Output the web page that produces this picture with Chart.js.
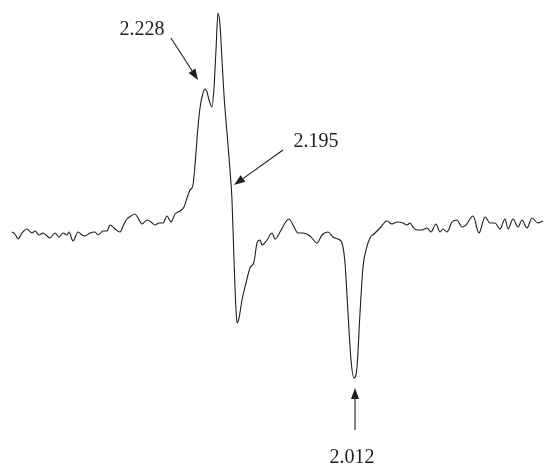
<!DOCTYPE html>
<html>
<head>
<meta charset="utf-8">
<script src="https://cdn.jsdelivr.net/npm/chart.js@4.4.1/dist/chart.umd.min.js"></script>
<style>
  html, body { margin: 0; padding: 0; background: #fff; }
  #wrap { width: 543px; height: 467px; }
</style>
</head>
<body>
<div id="wrap"><canvas id="c" width="543" height="467"></canvas></div>
<script>
// Magnetic field positions (arbitrary units) and first-derivative EPR signal
const field = [
  12, 15, 18, 22, 27, 32, 35, 39, 43, 47, 50, 55, 59, 63, 67, 69, 73, 78, 82, 85,
  90, 95, 98, 103, 107, 110, 115, 120, 124, 127, 131, 135, 138, 142, 147, 151, 155, 159, 163, 167,
  171, 175, 180, 184, 187, 190, 193, 195, 198, 200, 202, 205, 207, 209, 212, 214, 216, 218, 220, 222,
  224, 227, 230, 232, 234, 236, 237, 239, 242, 246, 250, 254, 257, 260, 262, 267, 272, 275, 280, 285,
  289, 293, 298, 303, 310, 317, 322, 328, 333, 338, 342, 345, 348, 351, 354, 357, 360, 363, 366, 370,
  375, 380, 387, 392, 397, 403, 407, 410, 413, 417, 422, 427, 431, 436, 440, 443, 447, 452, 457, 462,
  466, 473, 479, 485, 490, 495, 500, 505, 508, 513, 518, 522, 527, 532, 538, 543
];
const signal = [
  8, 6, 1, 7, 11, 7, 9, 5, 7, 4, 2, 7, 3, 7, 5, 8, -1, 8, 5, 4,
  7, 8, 5, 9, 9, 15, 11, 8, 16, 21, 24, 26, 22, 16, 20, 18, 15, 17, 17, 24,
  18, 26, 29, 33, 42, 50, 55, 75, 113, 132, 143, 151, 148, 140, 133, 152, 190, 227, 215, 180,
  145, 107, 70, 40, -20, -70, -83, -78, -60, -43, -28, -22, -3, 0, -5, 0, 7, 1, 8, 17,
  21, 15, 7, 7, 4, -3, 5, 8, 3, 1, -3, -23, -73, -120, -138, -127, -73, -27, -10, 2,
  7, 12, 19, 16, 18, 17, 15, 17, 13, 10, 10, 12, 8, 16, 8, 11, 8, 18, 20, 13,
  15, 24, 7, 23, 17, 17, 11, 21, 11, 21, 13, 20, 12, 22, 17, 19
];

// g-value labels: text, label centre, arrow tail, arrow tip (field, signal units)
const gLabels = ['2.228', '2.195', '2.012'];
const labelX = [142, 316, 352];
const labelY = [210, 98, -218];
const tailX = [171, 283, 355];
const tailY = [202, 90, -190];
const tipX = [198, 234, 355];
const tipY = [160, 55, -148];

const ink = '#1e1e1e';

const gMarkers = {
  id: 'gMarkers',
  afterDatasetsDraw(chart) {
    const { ctx, scales: { x, y } } = chart;
    ctx.save();
    ctx.strokeStyle = ink;
    ctx.fillStyle = ink;
    ctx.lineWidth = 1.1;
    ctx.font = '20px "Liberation Serif", "Times New Roman", serif';
    ctx.textAlign = 'center';
    ctx.textBaseline = 'middle';
    gLabels.forEach((t, i) => {
      const x0 = x.getPixelForValue(tailX[i]);
      const y0 = y.getPixelForValue(tailY[i]);
      const x1 = x.getPixelForValue(tipX[i]);
      const y1 = y.getPixelForValue(tipY[i]);
      const ang = Math.atan2(y1 - y0, x1 - x0);
      const headLen = 11, headW = 4;
      const bx = x1 - headLen * Math.cos(ang);
      const by = y1 - headLen * Math.sin(ang);
      ctx.beginPath();
      ctx.moveTo(x0, y0);
      ctx.lineTo(bx, by);
      ctx.stroke();
      ctx.beginPath();
      ctx.moveTo(x1, y1);
      ctx.lineTo(bx + headW * Math.sin(ang), by - headW * Math.cos(ang));
      ctx.lineTo(bx - headW * Math.sin(ang), by + headW * Math.cos(ang));
      ctx.closePath();
      ctx.fill();
      ctx.fillText(t, x.getPixelForValue(labelX[i]), y.getPixelForValue(labelY[i]));
    });
    ctx.restore();
  }
};

new Chart(document.getElementById('c'), {
  type: 'line',
  data: {
    datasets: [{
      data: field.map((f, i) => ({ x: f, y: signal[i] })),
      borderColor: ink,
      borderWidth: 1.1,
      pointRadius: 0,
      fill: false,
      cubicInterpolationMode: 'monotone'
    }]
  },
  options: {
    responsive: false,
    animation: false,
    layout: { padding: 0 },
    plugins: { legend: { display: false }, tooltip: { enabled: false } },
    scales: {
      x: { type: 'linear', min: 0, max: 543, display: false },
      y: { type: 'linear', min: -227, max: 240, display: false }
    }
  },
  plugins: [gMarkers]
});
</script>
</body>
</html>
